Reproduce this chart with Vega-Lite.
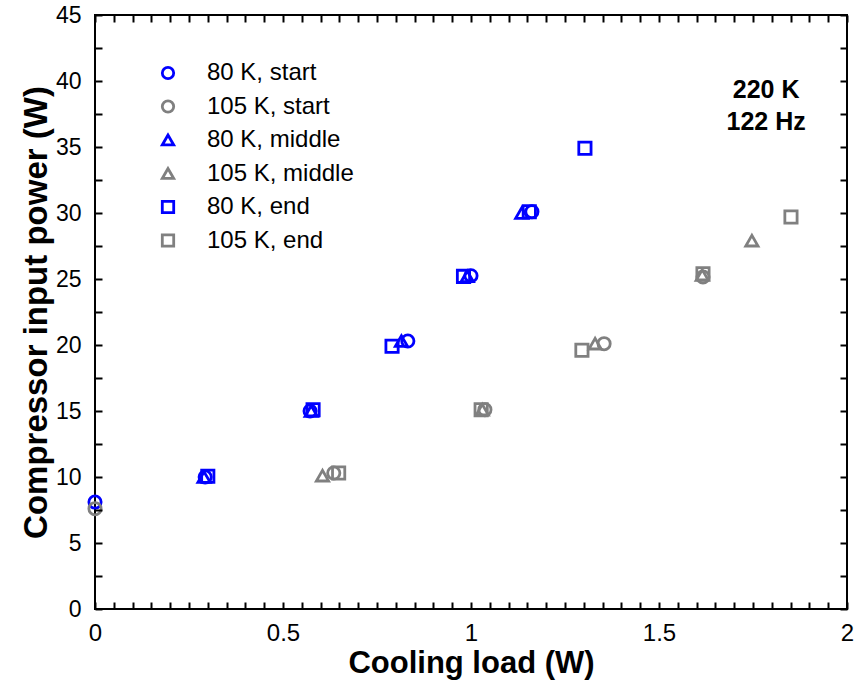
{
  "$schema": "https://vega.github.io/schema/vega-lite/v6.json",
  "width": 752,
  "height": 594,
  "autosize": "none",
  "padding": {"left": 95, "top": 15, "right": 17, "bottom": 73},
  "background": "white",
  "config": {
    "font": "Liberation Sans",
    "view": {"stroke": "black", "strokeWidth": 2}
  },
  "layer": [
    {
      "data": {
        "values": [
          {"series": "80 K, start", "load": 0.0, "power": 8.1},
          {"series": "80 K, start", "load": 0.293, "power": 10.0},
          {"series": "80 K, start", "load": 0.572, "power": 15.0},
          {"series": "80 K, start", "load": 0.832, "power": 20.3},
          {"series": "80 K, start", "load": 1.0, "power": 25.25},
          {"series": "80 K, start", "load": 1.162, "power": 30.1},
          {"series": "105 K, start", "load": 0.0, "power": 7.6},
          {"series": "105 K, start", "load": 0.635, "power": 10.3},
          {"series": "105 K, start", "load": 1.037, "power": 15.1},
          {"series": "105 K, start", "load": 1.354, "power": 20.1},
          {"series": "105 K, start", "load": 1.617, "power": 25.15},
          {"series": "80 K, middle", "load": 0.29, "power": 10.0},
          {"series": "80 K, middle", "load": 0.575, "power": 15.0},
          {"series": "80 K, middle", "load": 0.815, "power": 20.3},
          {"series": "80 K, middle", "load": 0.99, "power": 25.2},
          {"series": "80 K, middle", "load": 1.135, "power": 30.0},
          {"series": "105 K, middle", "load": 0.605, "power": 10.1},
          {"series": "105 K, middle", "load": 1.03, "power": 15.1},
          {"series": "105 K, middle", "load": 1.33, "power": 20.1},
          {"series": "105 K, middle", "load": 1.615, "power": 25.3},
          {"series": "105 K, middle", "load": 1.747, "power": 27.9},
          {"series": "80 K, end", "load": 0.3, "power": 10.05},
          {"series": "80 K, end", "load": 0.58, "power": 15.1},
          {"series": "80 K, end", "load": 0.79, "power": 19.9},
          {"series": "80 K, end", "load": 0.98, "power": 25.2},
          {"series": "80 K, end", "load": 1.155, "power": 30.1},
          {"series": "80 K, end", "load": 1.303, "power": 34.9},
          {"series": "105 K, end", "load": 0.648, "power": 10.3},
          {"series": "105 K, end", "load": 1.027, "power": 15.1},
          {"series": "105 K, end", "load": 1.295, "power": 19.6},
          {"series": "105 K, end", "load": 1.617, "power": 25.4},
          {"series": "105 K, end", "load": 1.851, "power": 29.7}
        ]
      },
      "mark": {"type": "point", "filled": false, "strokeWidth": 2.8, "size": 150, "opacity": 1},
      "encoding": {
        "x": {
          "field": "load",
          "type": "quantitative",
          "scale": {"domain": [0, 2], "nice": false, "zero": false},
          "axis": {
            "orient": "bottom",
            "offset": -7,
            "values": [0,0.05,0.1,0.15,0.2,0.25,0.3,0.35,0.4,0.45,0.5,0.55,0.6,0.65,0.7,0.75,0.8,0.85,0.9,0.95,1,1.05,1.1,1.15,1.2,1.25,1.3,1.35,1.4,1.45,1.5,1.55,1.6,1.65,1.7,1.75,1.8,1.85,1.9,1.95,2],
            "grid": false,
            "zindex": 1,
            "domain": false,
            "ticks": true,
            "tickColor": "black",
            "tickWidth": 2,
            "tickSize": 7,
            "labelExpr": "abs(datum.value*2 - round(datum.value*2)) < 0.001 ? '' + datum.value : ''",
            "labelFontSize": 24,
            "labelColor": "black",
            "labelPadding": 12,
            "labelFlush": false,
            "labelOverlap": false,
            "title": "Cooling load (W)",
            "titleFontSize": 31,
            "titleFontWeight": "bold",
            "titleColor": "black",
            "titlePadding": 3
          }
        },
        "y": {
          "field": "power",
          "type": "quantitative",
          "scale": {"domain": [0, 45], "nice": false},
          "axis": {
            "orient": "left",
            "offset": -7,
            "values": [0,2.5,5,7.5,10,12.5,15,17.5,20,22.5,25,27.5,30,32.5,35,37.5,40,42.5,45],
            "grid": false,
            "zindex": 1,
            "domain": false,
            "ticks": true,
            "tickColor": "black",
            "tickWidth": 2,
            "tickSize": 7,
            "labelExpr": "datum.value % 5 == 0 ? '' + datum.value : ''",
            "labelFontSize": 23,
            "labelColor": "black",
            "labelPadding": 14,
            "labelFlush": false,
            "labelOverlap": false,
            "title": "Compressor input power (W)",
            "titleFontSize": 33,
            "titleFontWeight": "bold",
            "titleColor": "black",
            "titlePadding": 2
          }
        },
        "color": {
          "field": "series",
          "type": "nominal",
          "scale": {
            "domain": ["80 K, start", "105 K, start", "80 K, middle", "105 K, middle", "80 K, end", "105 K, end"],
            "range": ["#0000FF", "#808080", "#0000FF", "#808080", "#0000FF", "#808080"]
          },
          "legend": {
            "title": null,
            "orient": "none",
            "legendX": 61,
            "legendY": 46,
            "labelFontSize": 24,
            "labelColor": "black",
            "labelOffset": 27,
            "rowPadding": 9.5,
            "symbolSize": 130,
            "symbolStrokeWidth": 2.8
          }
        },
        "shape": {
          "field": "series",
          "type": "nominal",
          "scale": {
            "domain": ["80 K, start", "105 K, start", "80 K, middle", "105 K, middle", "80 K, end", "105 K, end"],
            "range": ["circle", "circle", "triangle-up", "triangle-up", "square", "square"]
          }
        }
      }
    },
    {
      "data": {"values": [{"label": "annotation"}]},
      "mark": {"type": "text", "fontSize": 25, "fontWeight": "bold", "fill": "black", "align": "center", "baseline": "middle", "lineHeight": 32},
      "encoding": {
        "x": {
          "datum": 1.785,
          "type": "quantitative",
          "axis": {
            "orient": "top",
            "offset": -7,
            "values": [0,0.05,0.1,0.15,0.2,0.25,0.3,0.35,0.4,0.45,0.5,0.55,0.6,0.65,0.7,0.75,0.8,0.85,0.9,0.95,1,1.05,1.1,1.15,1.2,1.25,1.3,1.35,1.4,1.45,1.5,1.55,1.6,1.65,1.7,1.75,1.8,1.85,1.9,1.95,2],
            "grid": false,
            "zindex": 1,
            "labels": false,
            "title": null,
            "domain": false,
            "ticks": true,
            "tickColor": "black",
            "tickWidth": 2,
            "tickSize": 7
          }
        },
        "y": {
          "datum": 39.3,
          "type": "quantitative",
          "axis": {
            "orient": "right",
            "offset": -7,
            "values": [0,2.5,5,7.5,10,12.5,15,17.5,20,22.5,25,27.5,30,32.5,35,37.5,40,42.5,45],
            "grid": false,
            "zindex": 1,
            "labels": false,
            "title": null,
            "domain": false,
            "ticks": true,
            "tickColor": "black",
            "tickWidth": 2,
            "tickSize": 7
          }
        },
        "text": {"value": ["220 K", "122 Hz"]}
      }
    }
  ],
  "resolve": {"axis": {"x": "independent", "y": "independent"}}
}
